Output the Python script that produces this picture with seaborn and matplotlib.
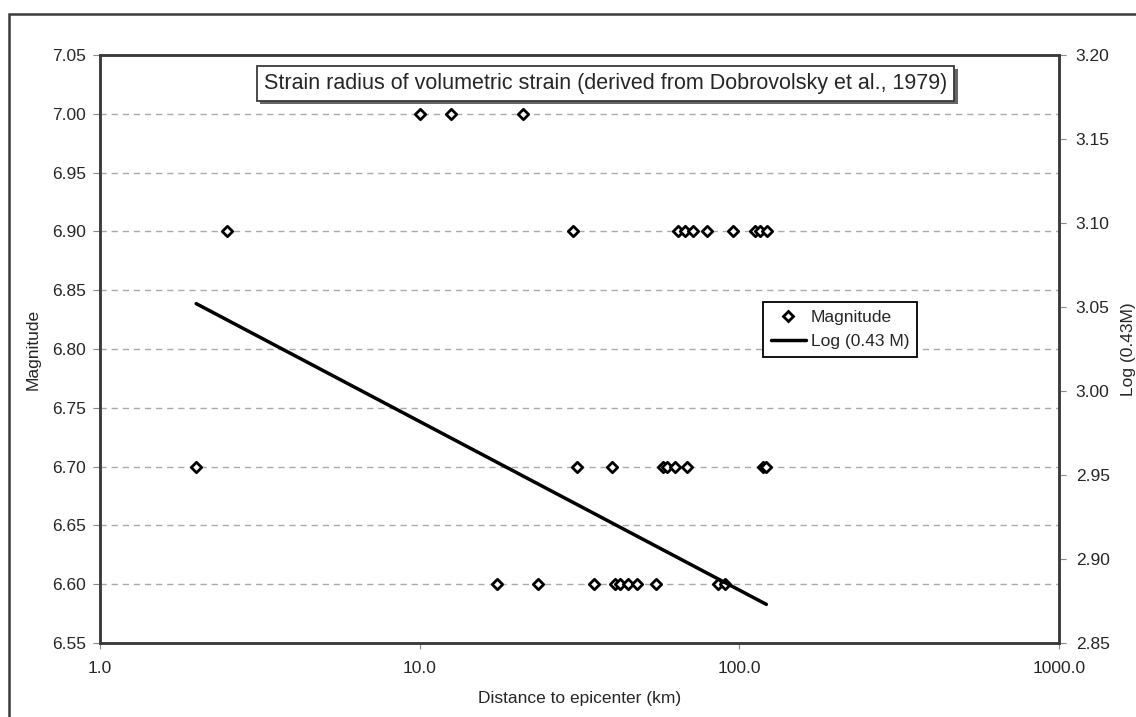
import matplotlib
matplotlib.use('Agg')
import matplotlib.pyplot as plt
import seaborn as sns
import pandas as pd
import numpy as np
from matplotlib.lines import Line2D
from matplotlib.patches import Rectangle
import matplotlib.patheffects as pe
from matplotlib.ticker import FixedLocator, FuncFormatter, NullLocator

# ---- data ----
dist_m700 = [10.0, 12.5, 21.1]
dist_m690 = [2.5, 30.1, 64.2, 67.4, 71.6, 79.4, 95.5, 111.7, 115.8, 122.1]
dist_m670 = [2.0, 31.1, 40.1, 57.7, 59.5, 63.0, 68.5, 119.0, 121.0]
dist_m660 = [17.5, 23.5, 35.0, 40.9, 42.2, 44.8, 47.9, 54.7, 85.7, 90.4]
magnitude_levels = [7.00, 6.90, 6.70, 6.60]

line_x = [2.0, 121.5]          # distance (km)
line_y = [3.052, 2.873]        # Log (0.43 M), right axis

x_ticks = [1.0, 10.0, 100.0, 1000.0]
y_left_ticks = [6.55, 6.60, 6.65, 6.70, 6.75, 6.80, 6.85, 6.90, 6.95, 7.00, 7.05]
y_right_ticks = [2.85, 2.90, 2.95, 3.00, 3.05, 3.10, 3.15, 3.20]

title_text = "Strain radius of volumetric strain (derived from Dobrovolsky et al., 1979)"

# ---- build table ----
groups = [dist_m700, dist_m690, dist_m670, dist_m660]
df = pd.DataFrame({
    'distance': [d for g in groups for d in g],
    'magnitude': [m for g, m in zip(groups, magnitude_levels) for _ in g],
})
line_df = pd.DataFrame({'distance': line_x, 'logr': line_y})

sns.set_style('white')
plt.rcParams['font.family'] = ['Liberation Sans', 'DejaVu Sans']

FS = 12.5
spine_col = '#3a3a3a'

fig = plt.figure(figsize=(11.36, 7.17), dpi=100)
ax = fig.add_axes([0.088, 0.1032, 0.8442, 0.8201])

ax.set_xscale('log')
ax.set_xlim(1, 1000)
ax.set_ylim(6.55, 7.05)

# grid
for yv in y_left_ticks[1:-1]:
    ax.axhline(yv, color='#aaaaaa', lw=1.0, ls=(0, (4.5, 3.5)), zorder=1)

sns.scatterplot(data=df, x='distance', y='magnitude', ax=ax, marker='D', s=28,
                color='white', edgecolor='black', linewidth=2.0, legend=False, zorder=3)

ax2 = ax.twinx()
sns.lineplot(data=line_df, x='distance', y='logr', ax=ax2, color='black', lw=2.5,
             legend=False, estimator=None, sort=False)
ax2.set_ylim(2.85, 3.20)
ax2.set_xlim(1, 1000)

# ticks
ax.xaxis.set_major_locator(FixedLocator(x_ticks))
ax.xaxis.set_minor_locator(NullLocator())
ax.xaxis.set_major_formatter(FuncFormatter(lambda v, p: f"{v:.1f}"))
ax.yaxis.set_major_locator(FixedLocator(y_left_ticks))
ax.yaxis.set_major_formatter(FuncFormatter(lambda v, p: f"{v:.2f}"))
ax2.yaxis.set_major_locator(FixedLocator(y_right_ticks))
ax2.yaxis.set_major_formatter(FuncFormatter(lambda v, p: f"{v:.2f}"))

ax.tick_params(axis='x', which='major', direction='out', length=4, width=0.8,
               color='#888888', labelsize=FS, pad=9, bottom=True)
ax.tick_params(axis='y', which='major', direction='out', length=5, width=0.8,
               color='#888888', labelsize=FS, pad=5, left=True)
ax2.tick_params(axis='y', which='major', direction='out', length=5, width=0.8,
                color='#888888', labelsize=FS, pad=7, right=True)

for a in (ax, ax2):
    for s in a.spines.values():
        s.set_color(spine_col)
        s.set_linewidth(1.8)
        s.set_visible(True)

ax.set_xlabel('Distance to epicenter (km)', fontsize=FS, labelpad=11)
ax.set_ylabel('Magnitude', fontsize=FS, labelpad=8)
ax2.set_ylabel('Log (0.43M)', fontsize=FS, labelpad=8)

# title box with shadow
t = ax.text(0.5276, 0.952, title_text, transform=ax.transAxes, ha='center', va='center',
            fontsize=15.5, zorder=5,
            bbox=dict(boxstyle='square,pad=0.32', facecolor='white', edgecolor=spine_col, lw=1.3))
t.get_bbox_patch().set_path_effects([
    pe.SimplePatchShadow(offset=(2.2, -2.2), shadow_rgbFace='#555555', alpha=0.9),
    pe.Normal()])

# legend
handles = [
    Line2D([], [], marker='D', ls='none', markersize=5.0, markerfacecolor='white',
           markeredgecolor='black', markeredgewidth=2.0, label='Magnitude'),
    Line2D([], [], color='black', lw=2.5, label='Log (0.43 M)'),
]
leg = fig.legend(handles=handles, loc='upper left', bbox_to_anchor=(763 / 1136, 1 - 302 / 717),
                 frameon=True, fancybox=False, framealpha=1, edgecolor='black',
                 fontsize=FS, handlelength=2.0, handletextpad=0.3, borderpad=0.45,
                 labelspacing=0.5, borderaxespad=0)
leg.get_frame().set_linewidth(1.3)

# outer chart frame (only left/top visible)
fig.add_artist(Rectangle((9 / 1136, -0.5), 2.0, (1 - 14 / 717) + 0.5, transform=fig.transFigure,
                         fill=False, edgecolor=spine_col, lw=1.8, clip_on=False))

fig.savefig('out.png', dpi=100)
